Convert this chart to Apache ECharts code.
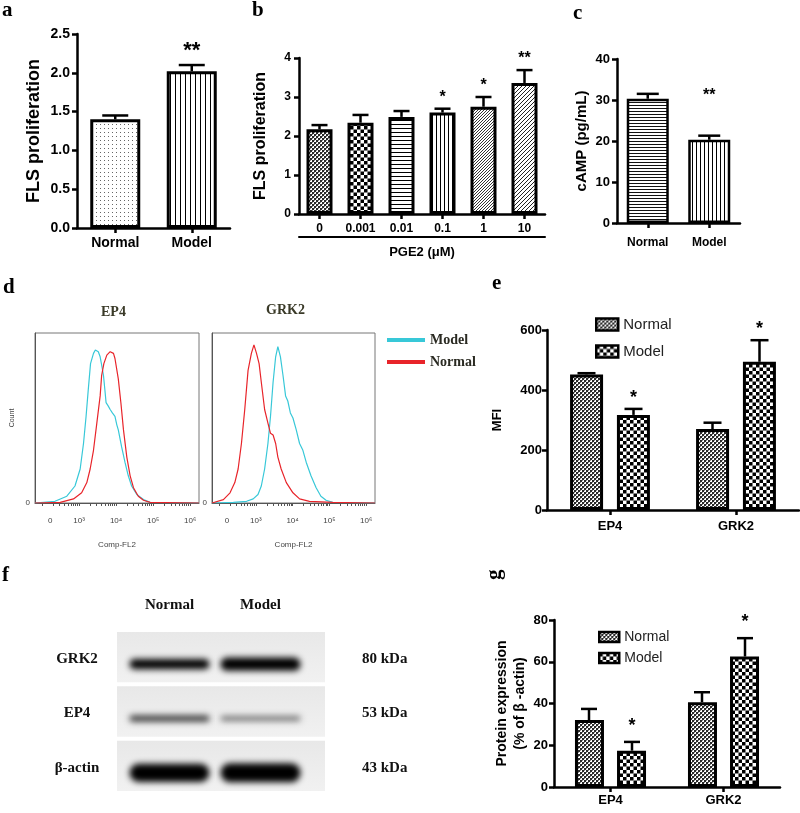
<!DOCTYPE html>
<html><head><meta charset="utf-8">
<script src="https://cdn.jsdelivr.net/npm/echarts@6/dist/echarts.min.js"></script>
<style>html,body{margin:0;padding:0;background:#fff}#c{width:800px;height:813px}</style>
</head><body><div id="c"></div>
<script>
// ---------- DATA ----------
const aCats = ['Normal', 'Model'];
const aMeans = [1.40, 2.02];
const aSem = [0.05, 0.08];
const aStars = ['', '**'];

const bCats = ['0', '0.001', '0.01', '0.1', '1', '10'];
const bMeans = [2.17, 2.34, 2.49, 2.60, 2.75, 3.36];
const bSem = [0.11, 0.20, 0.15, 0.10, 0.25, 0.33];
const bStars = ['', '', '', '*', '*', '**'];

const cCats = ['Normal', 'Model'];
const cMeans = [30.3, 20.3];
const cSem = [1.2, 1.0];
const cStars = ['', '**'];

const flowTicks = ['0', '10³', '10⁴', '10⁵', '10⁶'];
const ep4Model = [[1.81,0],[2.35,1],[2.67,4],[2.89,10],[3.03,20],[3.12,35],[3.19,51],[3.25,67],[3.31,82],[3.39,88],[3.44,90],[3.48,91],[3.52,89],[3.57,86],[3.62,80],[3.66,75],[3.70,66],[3.73,59],[3.79,57],[3.84,55],[3.90,53],[3.97,51],[4.02,46],[4.06,43],[4.15,33],[4.24,24],[4.33,16],[4.42,10],[4.56,5],[4.74,2],[4.92,0.4],[6.24,0]];
const ep4Normal = [[1.81,0],[2.49,0.4],[2.85,2.4],[3.07,6],[3.21,12],[3.30,20],[3.39,31],[3.48,47],[3.57,63],[3.61,75],[3.67,82],[3.75,87],[3.80,88],[3.84,89],[3.88,88],[3.93,88],[3.97,85],[4.02,84],[4.06,73],[4.13,59],[4.20,43],[4.29,27],[4.38,16],[4.47,9],[4.60,4],[4.74,1.6],[4.92,0.4],[6.24,0]];
const grk2Normal = [[1.81,0],[1.85,0.4],[2.12,2],[2.30,6],[2.43,12],[2.52,20],[2.61,35],[2.70,55],[2.79,78],[2.88,88],[2.95,93],[3.02,88],[3.09,82],[3.15,71],[3.24,55],[3.33,47],[3.40,41],[3.47,40],[3.54,35],[3.60,27],[3.69,20],[3.83,12],[4.01,6],[4.19,2.4],[4.46,1],[5.09,0.4],[6.24,0]];
const grk2Model = [[1.81,0],[2.39,0.4],[2.75,1],[2.93,2.4],[3.06,5],[3.15,10],[3.24,20],[3.33,35],[3.40,51],[3.47,71],[3.54,86],[3.60,92],[3.67,86],[3.74,75],[3.81,63],[3.87,60],[3.94,53],[4.01,50],[4.10,43],[4.19,35],[4.28,31],[4.37,24],[4.50,16],[4.64,9],[4.77,4],[4.91,1.6],[5.09,0.4],[6.24,0]];

const eCats = ['EP4', 'GRK2'];
const eNormal = [452, 270];
const eNormalSem = [4, 21];
const eModel = [317, 494];
const eModelSem = [20, 72];
const eStars = ['*', '*'];

const lanes = ['Normal', 'Model'];
const proteins = ['GRK2', 'EP4', 'β-actin'];
const kdaLabels = ['80 kDa', '53 kDa', '43 kDa'];
const grk2Band = [0.45, 0.65];
const ep4Band = [0.22, 0.12];
const actinBand = [0.95, 1.0];

const gCats = ['EP4', 'GRK2'];
const gNormal = [32.1, 40.6];
const gNormalSem = [5.3, 4.8];
const gModel = [17.4, 62.5];
const gModelSem = [4.2, 8.8];
const gStars = ['*', '*'];

// ---------- PATTERNS ----------
function pat(w, h, draw) {
  const c = document.createElement('canvas'); c.width = w; c.height = h;
  const x = c.getContext('2d'); x.fillStyle = '#fff'; x.fillRect(0, 0, w, h); draw(x);
  return { image: c, repeat: 'repeat' };
}
const P = {
  dots: pat(4, 4, x => { x.fillStyle = '#666'; x.fillRect(0, 0, 1, 1); }),
  vlines: pat(5, 2, x => { x.fillStyle = '#000'; x.fillRect(0, 0, 1, 2); }),
  vlines4: pat(4, 2, x => { x.fillStyle = '#000'; x.fillRect(0, 0, 1, 2); }),
  hlines: pat(2, 4, x => { x.fillStyle = '#000'; x.fillRect(0, 0, 2, 1); }),
  hlines3: pat(2, 3, x => { x.fillStyle = '#111'; x.fillRect(0, 0, 2, 1); }),
  fine: pat(4, 4, x => { x.fillStyle = '#2a2a2a'; x.fillRect(0, 0, 2, 2); x.fillRect(2, 2, 2, 2); x.fillStyle = '#888'; x.fillRect(2, 0, 1, 1); x.fillRect(0, 2, 1, 1); }),
  check: pat(7, 7, x => { x.fillStyle = '#000'; x.fillRect(0, 0, 3.5, 3.5); x.fillRect(3.5, 3.5, 3.5, 3.5); }),
  diag: pat(4, 4, x => { x.strokeStyle = '#222'; x.lineWidth = 1; x.beginPath(); x.moveTo(-1, 5); x.lineTo(5, -1); x.moveTo(-1, 1); x.lineTo(1, -1); x.moveTo(3, 5); x.lineTo(5, 3); x.stroke(); }),
  diag3: pat(3, 3, x => { x.strokeStyle = '#333'; x.lineWidth = 1; x.beginPath(); x.moveTo(-1, 4); x.lineTo(4, -1); x.stroke(); })
};

const SANS = 'Liberation Sans';
const SERIF = 'Liberation Serif';

function valY(grid, min, max, interval, fs, margin, name, nameGap, nameFs, fmt) {
  return {
    gridIndex: grid, type: 'value', min, max, interval,
    axisLine: { show: true, lineStyle: { color: '#000', width: 2.5 } },
    axisTick: { show: true, length: 5, lineStyle: { color: '#000', width: 2.5 } },
    splitLine: { show: false },
    axisLabel: { color: '#000', fontWeight: 'bold', fontSize: fs, fontFamily: SANS, margin, formatter: fmt },
    name, nameLocation: 'middle', nameGap,
    nameTextStyle: { color: '#000', fontWeight: 'bold', fontSize: nameFs, fontFamily: SANS, lineHeight: nameFs + 4 }
  };
}
function catX(grid, data, fs, margin) {
  return {
    gridIndex: grid, type: 'category', data,
    axisLine: { show: true, lineStyle: { color: '#000', width: 2.5 } },
    axisTick: { show: true, alignWithLabel: true, length: 5, lineStyle: { color: '#000', width: 2.5 } },
    axisLabel: { color: '#000', fontWeight: 'bold', fontSize: fs, fontFamily: SANS, margin, interval: 0 }
  };
}
function errSeries(xi, yi, means, sems, stars, offset, capW, starFs, starGap) {
  return {
    type: 'custom', xAxisIndex: xi, yAxisIndex: yi, z: 5, silent: true,
    data: means.map((m, i) => [i, m, m + sems[i]]),
    renderItem(params, api) {
      const i = params.dataIndex;
      const p0 = api.coord([api.value(0), api.value(1)]);
      const p1 = api.coord([api.value(0), api.value(2)]);
      const cx = p0[0] + offset;
      const ch = [
        { type: 'line', shape: { x1: cx, y1: p0[1], x2: cx, y2: p1[1] }, style: { stroke: '#000', lineWidth: 2.5 } },
        { type: 'line', shape: { x1: cx - capW / 2, y1: p1[1], x2: cx + capW / 2, y2: p1[1] }, style: { stroke: '#000', lineWidth: 2.5 } }
      ];
      if (stars[i]) ch.push({ type: 'text', style: { x: cx, y: p1[1] - starGap, text: stars[i], align: 'center', verticalAlign: 'middle', textAlign: 'center', textVerticalAlign: 'middle', font: 'bold ' + starFs + 'px ' + SANS, fill: '#000' } });
      return { type: 'group', children: ch };
    }
  };
}

// flow ticks (log minor ticks)
const minorTicks = [];
for (let d = 2; d <= 6; d++) for (let k = 1; k <= 9; k++) { const v = d + Math.log10(k); if (v > 1.85 && v < 6.22) minorTicks.push(v); }
const flowTickPos = [2.22, 3, 4, 5, 6];
function flowX(grid) {
  return {
    gridIndex: grid, type: 'value', min: 1.81, max: 6.24,
    axisLine: { show: true, onZero: false, lineStyle: { color: '#555', width: 1 } },
    axisTick: { show: true, customValues: minorTicks, length: 3, lineStyle: { color: '#555', width: 1 } },
    axisLabel: { customValues: flowTickPos, fontSize: 8, color: '#444', fontFamily: SANS, margin: 14,
      formatter: v => flowTicks[flowTickPos.indexOf(v)] ?? '' },
    splitLine: { show: false },
    name: 'Comp-FL2', nameLocation: 'middle', nameGap: 38, nameTextStyle: { fontSize: 8, color: '#444', fontFamily: SANS }
  };
}
function flowY(grid, name) {
  return {
    gridIndex: grid, type: 'value', min: 0, max: 100,
    axisLine: { show: true, lineStyle: { color: '#555', width: 1 } },
    axisTick: { show: false },
    axisLabel: { customValues: [0], fontSize: 8, color: '#444', fontFamily: SANS, margin: 5 },
    splitLine: { show: false },
    name, nameLocation: 'middle', nameGap: 19, nameTextStyle: { fontSize: 7, color: '#444', fontFamily: SANS }
  };
}
const CYAN = '#38c8d8', RED = '#e8242a';
function flowLine(name, xi, yi, data, color) {
  return { type: 'line', name, xAxisIndex: xi, yAxisIndex: yi, data, showSymbol: false, symbol: 'none',
    lineStyle: { color, width: 1.2 }, itemStyle: { color }, z: color === RED ? 3 : 2 };
}

const bandData = [];
[grk2Band, ep4Band, actinBand].forEach((arr, p) => arr.forEach((v, l) => bandData.push([l, p, v])));

const legendSwatch = { borderColor: '#000', borderWidth: 2.5 };

const option = {
  animation: false,
  backgroundColor: '#fff',
  grid: [
    { left: 77, top: 34, width: 153, height: 194 },      // a
    { left: 299, top: 58, width: 246, height: 156 },     // b
    { left: 617, top: 59, width: 123, height: 164 },     // c
    { left: 35, top: 333, width: 164, height: 170, show: true, borderColor: '#777', borderWidth: 1 }, // d1
    { left: 212, top: 333, width: 163, height: 170, show: true, borderColor: '#777', borderWidth: 1 }, // d2
    { left: 547, top: 330, width: 252, height: 180 },    // e
    { left: 124, top: 632, width: 182, height: 163 },    // f
    { left: 554, top: 620, width: 226, height: 167 }     // g
  ],
  xAxis: [
    catX(0, aCats, 14, 8),
    catX(1, bCats, 12, 9),
    { gridIndex: 1, type: 'category', data: bCats, position: 'bottom', offset: 23,
      axisLine: { show: true, lineStyle: { color: '#000', width: 2 } }, axisTick: { show: false }, axisLabel: { show: false },
      name: 'PGE2 (μM)', nameLocation: 'middle', nameGap: 9, nameTextStyle: { color: '#000', fontWeight: 'bold', fontSize: 13, fontFamily: SANS } },
    catX(2, cCats, 12, 14),
    flowX(3),
    flowX(4),
    catX(5, eCats, 13, 10),
    { gridIndex: 6, type: 'category', data: lanes, position: 'top',
      axisLine: { show: false }, axisTick: { show: false },
      axisLabel: { color: '#111', fontWeight: 'bold', fontSize: 15, fontFamily: SERIF, margin: 19 } },
    catX(7, gCats, 13, 7)
  ],
  yAxis: [
    valY(0, 0, 2.5, 0.5, 14, 7, 'FLS proliferation', 32, 18, v => v.toFixed(1)),
    valY(1, 0, 4, 1, 12, 8, 'FLS proliferation', 28, 16, v => String(v)),
    valY(2, 0, 40, 10, 13, 7, 'cAMP (pg/mL)', 25, 15, v => String(v)),
    flowY(3, 'Count'),
    flowY(4, ''),
    valY(5, 0, 600, 200, 13, 5, 'MFI', 41, 13, v => String(v)),
    { gridIndex: 6, type: 'category', data: proteins, inverse: true,
      axisLine: { show: false }, axisTick: { show: false },
      axisLabel: { color: '#111', fontWeight: 'bold', fontSize: 15, fontFamily: SERIF, margin: 47, align: 'center' } },
    { gridIndex: 6, type: 'category', data: kdaLabels, inverse: true, position: 'right',
      axisLine: { show: false }, axisTick: { show: false },
      axisLabel: { color: '#111', fontWeight: 'bold', fontSize: 15, fontFamily: SERIF, margin: 56, align: 'left' } },
    valY(7, 0, 80, 20, 13, 6, 'Protein expression\n(% of β -actin)', 22, 14, v => String(v))
  ],
  legend: [
    { data: ['d:Model', 'd:Normal'], orient: 'vertical', left: 382, top: 328, icon: 'rect', itemWidth: 38, itemHeight: 4, itemGap: 8,
      formatter: n => n.split(':')[1], textStyle: { fontFamily: SERIF, fontWeight: 'bold', fontSize: 14, color: '#2a2a22' } },
    { data: ['e:Normal', 'e:Model'], orient: 'vertical', left: 590, top: 312, icon: 'rect', itemWidth: 22, itemHeight: 12, itemGap: 12,
      itemStyle: legendSwatch,
      formatter: n => n.split(':')[1], textStyle: { fontFamily: SANS, fontSize: 15, color: '#222' } },
    { data: ['g:Normal', 'g:Model'], orient: 'vertical', left: 593, top: 625, icon: 'rect', itemWidth: 20, itemHeight: 10, itemGap: 7,
      itemStyle: legendSwatch,
      formatter: n => n.split(':')[1], textStyle: { fontFamily: SANS, fontSize: 14, color: '#222' } }
  ],
  graphic: [
    { type: 'text', left: 2, top: 0, style: { text: 'a', font: 'bold 21px ' + SERIF, fill: '#000' } },
    { type: 'text', left: 252, top: 0, style: { text: 'b', font: 'bold 21px ' + SERIF, fill: '#000' } },
    { type: 'text', left: 573, top: 3, style: { text: 'c', font: 'bold 21px ' + SERIF, fill: '#000' } },
    { type: 'text', left: 3, top: 277, style: { text: 'd', font: 'bold 21px ' + SERIF, fill: '#000' } },
    { type: 'text', left: 492, top: 273, style: { text: 'e', font: 'bold 21px ' + SERIF, fill: '#000' } },
    { type: 'text', left: 2, top: 565, style: { text: 'f', font: 'bold 21px ' + SERIF, fill: '#000' } },
    { type: 'text', x: 484, y: 580, rotation: Math.PI / 2, style: { text: 'g', font: 'bold 21px ' + SERIF, fill: '#000' } },
    { type: 'text', left: 101, top: 305, style: { text: 'EP4', font: 'bold 14px ' + SERIF, fill: '#3a3a28' } },
    { type: 'text', left: 266, top: 303, style: { text: 'GRK2', font: 'bold 14px ' + SERIF, fill: '#3a3a28' } }
  ],
  series: [
    // a
    { type: 'bar', xAxisIndex: 0, yAxisIndex: 0, barWidth: 50,
      data: aMeans.map((v, i) => ({ value: v, itemStyle: { color: [P.dots, P.vlines][i] } })),
      itemStyle: { borderColor: '#000', borderWidth: 3 } },
    errSeries(0, 0, aMeans, aSem, aStars, 0, 26, 22, 14),
    // b
    { type: 'bar', xAxisIndex: 1, yAxisIndex: 1, barWidth: 26,
      data: bMeans.map((v, i) => ({ value: v, itemStyle: { color: [P.fine, P.check, P.hlines, P.vlines4, P.diag3, P.diag][i] } })),
      itemStyle: { borderColor: '#000', borderWidth: 3 } },
    errSeries(1, 1, bMeans, bSem, bStars, 0, 16, 16, 11),
    // c
    { type: 'bar', xAxisIndex: 3, yAxisIndex: 2, barWidth: 42,
      data: cMeans.map((v, i) => ({ value: v, itemStyle: { color: [P.hlines3, P.vlines4][i] } })),
      itemStyle: { borderColor: '#000', borderWidth: 2.5 } },
    errSeries(3, 2, cMeans, cSem, cStars, 0, 22, 16, 40),
    // d
    flowLine('d:Model', 4, 3, ep4Model, CYAN),
    flowLine('d:Normal', 4, 3, ep4Normal, RED),
    flowLine('d:Normal', 5, 4, grk2Normal, RED),
    flowLine('d:Model', 5, 4, grk2Model, CYAN),
    // e
    { type: 'bar', name: 'e:Normal', xAxisIndex: 6, yAxisIndex: 5, barWidth: 33, barGap: '42%', data: eNormal,
      itemStyle: { color: P.fine, borderColor: '#000', borderWidth: 3 } },
    { type: 'bar', name: 'e:Model', xAxisIndex: 6, yAxisIndex: 5, barWidth: 33, barGap: '42%', data: eModel,
      itemStyle: { color: P.check, borderColor: '#000', borderWidth: 3 } },
    errSeries(6, 5, eNormal, eNormalSem, ['', ''], -23.5, 18, 18, 11),
    errSeries(6, 5, eModel, eModelSem, eStars, 23.5, 18, 18, 11),
    // f (western blot)
    { type: 'custom', xAxisIndex: 7, yAxisIndex: 6, silent: true, clip: false, data: bandData,
      renderItem(params, api) {
        const lane = api.value(0), I = api.value(2);
        const c = api.coord([lane, api.value(1)]);
        const sz = api.size([1, 1]);
        const cs = params.coordSys;
        const rowTop = c[1] - sz[1] / 2;
        const sx0 = lane === 0 ? cs.x - 7 : c[0] - sz[0] / 2;
        const sx1 = lane === 0 ? c[0] + sz[0] / 2 : cs.x + cs.width + 19;
        const th = 3 + 16 * I;
        const alpha = Math.min(1, 0.3 + 2 * I);
        const w = sz[0] * 0.88;
        const by = c[1] + 5;
        return { type: 'group', children: [
          { type: 'rect', shape: { x: sx0, y: rowTop, width: sx1 - sx0, height: sz[1] - 4 },
            style: { fill: new echarts.graphic.LinearGradient(0, 0, 0, 1, [{ offset: 0, color: '#e8e8e8' }, { offset: 1, color: '#f1f1f1' }]) } },
          { type: 'rect', shape: { x: c[0] - w / 2 - 4000, y: by - th / 2, width: w, height: th, r: th / 2 },
            style: { fill: '#000', shadowColor: 'rgba(0,0,0,' + alpha + ')', shadowBlur: 6, shadowOffsetX: 4000 } }
        ] };
      } },
    // g
    { type: 'bar', name: 'g:Normal', xAxisIndex: 8, yAxisIndex: 8, barWidth: 29, barGap: '45%', data: gNormal,
      itemStyle: { color: P.fine, borderColor: '#000', borderWidth: 3 } },
    { type: 'bar', name: 'g:Model', xAxisIndex: 8, yAxisIndex: 8, barWidth: 29, barGap: '45%', data: gModel,
      itemStyle: { color: P.check, borderColor: '#000', borderWidth: 3 } },
    errSeries(8, 8, gNormal, gNormalSem, ['', ''], -21.5, 16, 18, 16),
    errSeries(8, 8, gModel, gModelSem, gStars, 21.5, 16, 18, 16)
  ]
};
const chart = echarts.init(document.getElementById('c'), null, { renderer: 'canvas' });
chart.setOption(option);
</script></body></html>
